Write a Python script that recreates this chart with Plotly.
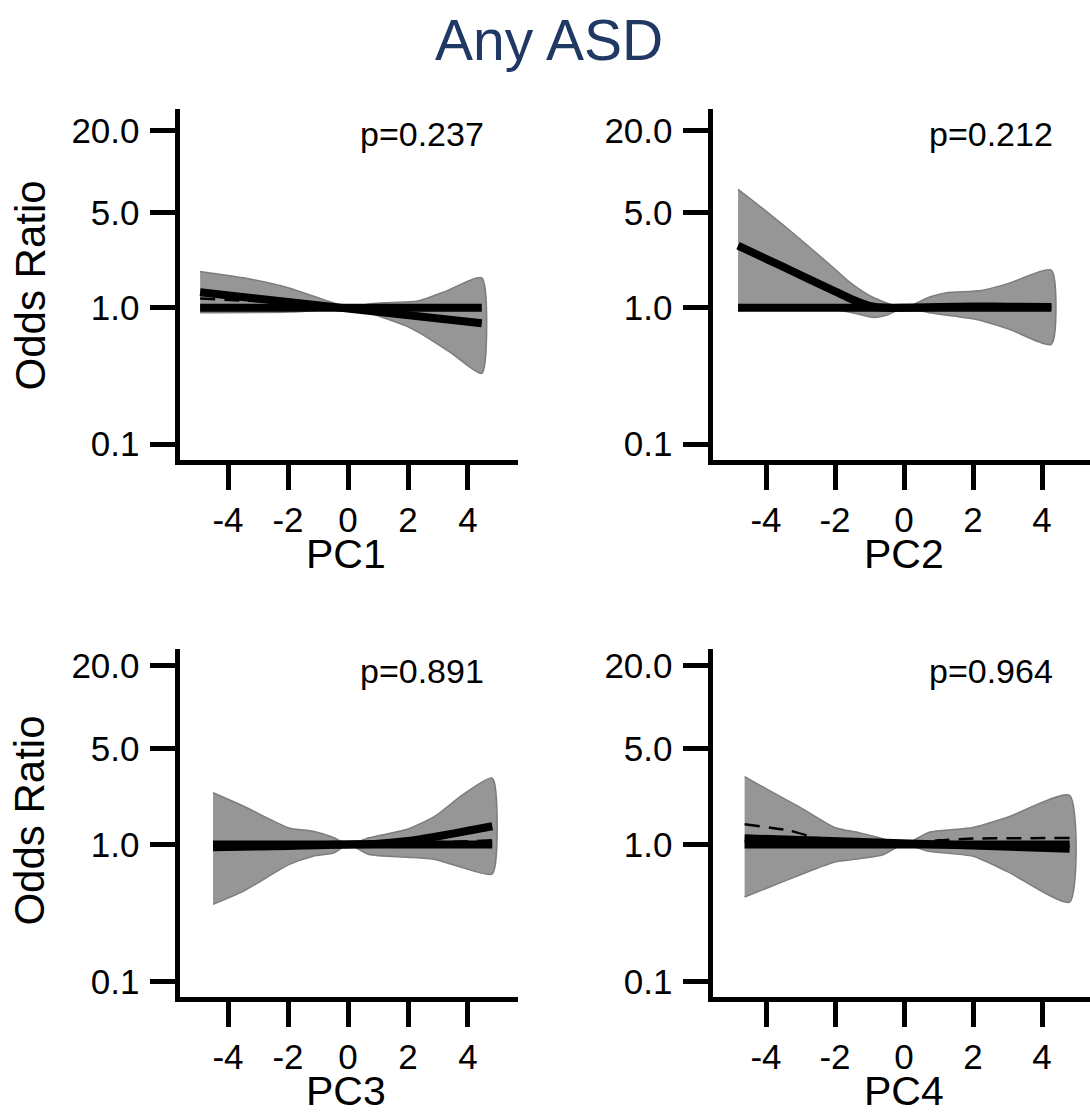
import plotly.graph_objects as go

# ---------------- data (odds ratios) ----------------
panel_names = ["PC1", "PC2", "PC3", "PC4"]
p_labels = ["p=0.237", "p=0.212", "p=0.891", "p=0.964"]

x_ticks = [-4, -2, 0, 2, 4]
x_tick_text = ["-4", "-2", "0", "2", "4"]
y_ticks = [0.1, 1.0, 5.0, 20.0]
y_tick_text = ["0.1", "1.0", "5.0", "20.0"]

# PC1
pc1_up_x = [-4.93, -3.48, -1.97, -1.16, -0.4, 0, 0.6, 1.16, 2.32, 3.25, 4.46]
pc1_up = [1.85, 1.66, 1.40, 1.22, 1.07, 1.00, 1.06, 1.09, 1.12, 1.32, 1.66]
pc1_lo_x = [-4.93, -1.97, -1.0, 0, 0.6, 1.16, 1.97, 2.67, 3.48, 4.46]
pc1_lo = [0.92, 0.93, 0.96, 1.00, 0.93, 0.85, 0.73, 0.60, 0.46, 0.33]
pc1_fit_x = [-4.93, 4.46]
pc1_fit = [1.30, 0.77]
pc1_dash_x = [-4.93, -3.5, -2.2, -1.0, 0, 2.0, 4.46]
pc1_dash = [1.17, 1.13, 1.10, 1.05, 1.00, 0.89, 0.78]

# PC2
pc2_up_x = [-4.81, -4.0, -3.04, -2.03, -1.53, -0.92, 0, 0.74, 1.23, 2.24, 3.03, 4.27]
pc2_up = [7.40, 5.12, 3.24, 1.95, 1.51, 1.20, 1.00, 1.20, 1.29, 1.34, 1.51, 1.89]
pc2_lo_x = [-4.81, -2.03, -1.33, -0.87, -0.47, 0, 0.74, 2.0, 3.03, 4.27]
pc2_lo = [0.955, 0.97, 0.90, 0.85, 0.89, 1.00, 0.92, 0.83, 0.70, 0.54]
pc2_fit_x = [-4.81, -4.0, -3.0, -2.0, -1.5, -1.0, -0.5, 0, 1, 2, 3, 4.27]
pc2_fit = [2.86, 2.29, 1.74, 1.32, 1.15, 1.035, 1.0, 1.0, 1.014, 1.023, 1.018, 1.012]
pc2_dash_x = pc2_fit_x
pc2_dash = pc2_fit

# PC3
pc3_up_x = [-4.5, -3.48, -1.97, -1.16, -0.46, 0, 0.7, 1.97, 2.9, 3.83, 4.81]
pc3_up = [2.38, 1.90, 1.32, 1.25, 1.12, 1.00, 1.12, 1.29, 1.61, 2.31, 3.05]
pc3_lo_x = [-4.5, -3.48, -1.97, -1.16, -0.46, 0, 0.7, 1.97, 2.9, 3.83, 4.81]
pc3_lo = [0.366, 0.457, 0.714, 0.822, 0.869, 1.0, 0.845, 0.809, 0.778, 0.676, 0.611]
pc3_fit_x = [-4.5, -3, -2, -1, 0, 1, 2, 3, 4, 4.81]
pc3_fit = [0.955, 0.966, 0.977, 0.989, 1.0, 1.012, 1.059, 1.148, 1.259, 1.358]
pc3_dash_x = [-4.5, -3.0, -1.5, 0, 2.0, 4.81]
pc3_dash = [0.933, 0.944, 0.966, 1.0, 1.023, 1.072]

# PC4
pc4_up_x = [-4.62, -4.0, -3.02, -2.01, -1.31, -0.71, 0, 0.70, 1.19, 2.0, 3.0, 4.80]
pc4_up = [3.12, 2.55, 1.87, 1.33, 1.22, 1.12, 1.00, 1.22, 1.27, 1.33, 1.58, 2.28]
pc4_lo_x = [-4.62, -4.0, -3.02, -2.01, -1.31, -0.61, 0, 0.70, 2.0, 3.0, 4.80]
pc4_lo = [0.414, 0.478, 0.600, 0.745, 0.787, 0.843, 1.0, 0.893, 0.820, 0.634, 0.380]
pc4_fit_x = [-4.62, 4.80]
pc4_fit = [1.11, 0.933]
pc4_dash_x = [-4.62, -3.3, -2.5, -1.5, 0, 1.0, 2.0, 4.80]
pc4_dash = [1.406, 1.259, 1.109, 1.047, 1.0, 1.072, 1.104, 1.114]

panels = [
    (pc1_up_x, pc1_up, pc1_lo_x, pc1_lo, pc1_fit_x, pc1_fit, pc1_dash_x, pc1_dash),
    (pc2_up_x, pc2_up, pc2_lo_x, pc2_lo, pc2_fit_x, pc2_fit, pc2_dash_x, pc2_dash),
    (pc3_up_x, pc3_up, pc3_lo_x, pc3_lo, pc3_fit_x, pc3_fit, pc3_dash_x, pc3_dash),
    (pc4_up_x, pc4_up, pc4_lo_x, pc4_lo, pc4_fit_x, pc4_fit, pc4_dash_x, pc4_dash),
]

# ---------------- layout geometry (pixels) ----------------
W, H = 1090, 1115
FONT = "Liberation Sans, Arial, sans-serif"


def fx(px):
    return px / W


def fy(py):
    return 1 - py / H


# per panel: x domain px, x range, y domain px, y log range
geo = [
    dict(xd=(179.5, 518), xr=(-5.617, 5.667), yd=(108, 460.5), yr=(-1.117, 1.456)),
    dict(xd=(712.5, 1090), xr=(-5.551, 5.391), yd=(108, 460.5), yr=(-1.117, 1.456)),
    dict(xd=(179.5, 518), xr=(-5.617, 5.667), yd=(650, 1000.5), yr=(-1.112, 1.428)),
    dict(xd=(712.5, 1090), xr=(-5.551, 5.391), yd=(650, 1000.5), yr=(-1.112, 1.428)),
]

fig = go.Figure()
layout = {}
for i, (ux, uy, lx, ly, fxs, fys, dxs, dys) in enumerate(panels):
    n = "" if i == 0 else str(i + 1)
    xa, ya = "x" + n, "y" + n
    # confidence band
    fig.add_trace(go.Scatter(
        x=list(ux) + list(lx)[::-1], y=list(uy) + list(ly)[::-1],
        mode="lines", fill="toself", fillcolor="rgb(150,150,150)",
        line=dict(color="rgb(125,125,125)", width=1.5, shape="spline", smoothing=0.6),
        xaxis=xa, yaxis=ya, showlegend=False, hoverinfo="skip"))
    # dashed curve
    fig.add_trace(go.Scatter(
        x=dxs, y=dys, mode="lines",
        line=dict(color="black", width=2.5, dash="15px,9px", shape="spline", smoothing=0.6),
        xaxis=xa, yaxis=ya, showlegend=False, hoverinfo="skip"))
    # reference line OR = 1
    xmin, xmax = min(ux[0], lx[0]), max(ux[-1], lx[-1])
    fig.add_trace(go.Scatter(
        x=[xmin, xmax], y=[1, 1], mode="lines",
        line=dict(color="black", width=8),
        xaxis=xa, yaxis=ya, showlegend=False, hoverinfo="skip"))
    # fitted line
    fig.add_trace(go.Scatter(
        x=fxs, y=fys, mode="lines",
        line=dict(color="black", width=8, shape="spline", smoothing=0.6),
        xaxis=xa, yaxis=ya, showlegend=False, hoverinfo="skip"))

    g = geo[i]
    axis_common = dict(
        showline=True, linewidth=5, linecolor="black", mirror=False,
        ticks="outside", ticklen=25, tickwidth=5, tickcolor="black",
        showgrid=False, zeroline=False,
        tickfont=dict(family=FONT, size=35, color="black"),
    )
    layout["xaxis" + n] = dict(
        axis_common, domain=[fx(g["xd"][0]), fx(g["xd"][1])], range=list(g["xr"]),
        tickmode="array", tickvals=x_ticks, ticktext=x_tick_text,
        anchor=ya, ticklabelstandoff=0)
    layout["yaxis" + n] = dict(
        axis_common, type="log",
        domain=[fy(g["yd"][1]), fy(g["yd"][0])], range=list(g["yr"]),
        tickmode="array", tickvals=y_ticks, ticktext=y_tick_text,
        anchor=xa, ticklabelstandoff=3)

annotations = []
# title
annotations.append(dict(text="Any ASD", x=fx(549), y=fy(38), xref="paper", yref="paper",
                        showarrow=False, xanchor="center", yanchor="middle",
                        font=dict(family=FONT, size=57, color="#1F3864")))
# axis titles
xt_pos = [(346, 555), (904, 555), (346, 1095), (904, 1095)]
for name, (px, py) in zip(panel_names, xt_pos):
    annotations.append(dict(text=name, x=fx(px), y=fy(py), xref="paper", yref="paper",
                            showarrow=False, xanchor="center", yanchor="middle",
                            font=dict(family=FONT, size=41, color="black")))
for py in (285, 823):
    annotations.append(dict(text="Odds Ratio", x=fx(30), y=fy(py), xref="paper", yref="paper",
                            showarrow=False, xanchor="center", yanchor="middle", textangle=-90,
                            font=dict(family=FONT, size=42, color="black")))
# p-values
p_pos = [(486, 133), (1055, 133), (486, 673), (1055, 673)]
for lab, (px, py) in zip(p_labels, p_pos):
    annotations.append(dict(text=lab, x=fx(px), y=fy(py), xref="paper", yref="paper",
                            showarrow=False, xanchor="right", yanchor="middle",
                            font=dict(family=FONT, size=34, color="black")))

fig.update_layout(
    width=W, height=H, margin=dict(l=0, r=0, t=0, b=0),
    paper_bgcolor="white", plot_bgcolor="white",
    annotations=annotations, showlegend=False, **layout)

fig.write_html("out.html")
